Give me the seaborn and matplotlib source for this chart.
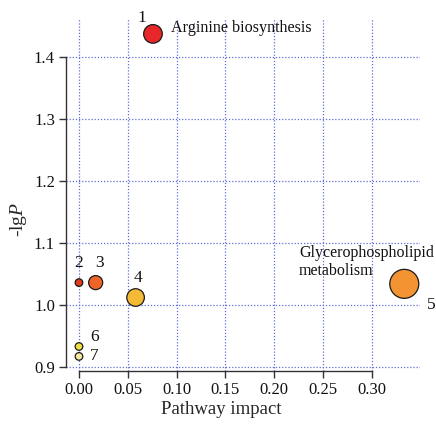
import matplotlib
matplotlib.use("Agg")
import matplotlib.pyplot as plt
import seaborn as sns
import pandas as pd

# Data
ids = ["1", "2", "3", "4", "5", "6", "7"]
impact = [0.0758, 0.0, 0.0171, 0.0580, 0.3333, 0.0, 0.0]
neglogp = [1.437, 1.036, 1.036, 1.012, 1.034, 0.933, 0.917]
colors = ["#E8272B", "#E23A1E", "#EF6427", "#F4BA35", "#F39331", "#EDDF44", "#F3EC9C"]
sizes_pt2 = [180, 30, 102, 160, 436, 30, 30]
xticks = [0.00, 0.05, 0.10, 0.15, 0.20, 0.25, 0.30]
yticks = [0.9, 1.0, 1.1, 1.2, 1.3, 1.4]

df = pd.DataFrame({"id": ids, "impact": impact, "neglogp": neglogp})

sns.set_style("white")
plt.rcParams["font.family"] = ["Liberation Serif", "DejaVu Serif"]
plt.rcParams["mathtext.fontset"] = "custom"
plt.rcParams["mathtext.rm"] = "Liberation Serif"
plt.rcParams["mathtext.it"] = "Liberation Serif:italic"

fig = plt.figure(figsize=(4.36, 4.26), dpi=100)
ax = fig.add_axes([66/436, 1-371/426, (420-66)/436, (371-19)/426])

# grid
for xt in xticks:
    ax.axvline(xt, color="#5F6FD6", lw=0.9, ls=(0, (1, 1.5)), zorder=0)
for yt in yticks:
    ax.axhline(yt, color="#5F6FD6", lw=0.9, ls=(0, (1, 1.5)), zorder=0)

sns.scatterplot(data=df, x="impact", y="neglogp", hue="id",
                palette=dict(zip(ids, colors)), size="id",
                sizes=dict(zip(ids, sizes_pt2)), edgecolor="#1a1a1a",
                linewidth=0.9, legend=False, ax=ax, zorder=3, clip_on=False)

ax.set_xlim(-0.0133, 0.3494)
ax.set_ylim(0.8935, 1.461)
ax.set_xticks(xticks)
ax.set_xticklabels([f"{v:.2f}" for v in xticks])
ax.set_yticks(yticks)
ax.set_yticklabels([f"{v:.1f}" for v in yticks])
ax.spines["top"].set_visible(False)
ax.spines["right"].set_visible(False)
ax.spines["left"].set_bounds(0.9, 1.4)
ax.spines["bottom"].set_bounds(0.0, 0.30)
for s in ["left", "bottom"]:
    ax.spines[s].set_color("#333333")
    ax.spines[s].set_linewidth(1.0)
ax.tick_params(axis="both", direction="out", length=5, width=1.0,
               color="#333333", labelsize=12, labelcolor="#111111",
               left=True, bottom=True, pad=3)

ax.set_xlabel("Pathway impact", fontsize=13.5)
ax.set_ylabel(r"-lg$\mathit{P}$", fontsize=14)
ax.xaxis.set_label_coords((221-66)/354, -(401-371)/352)
ax.yaxis.set_label_coords(-(66-29)/354, (371-219)/352)

tk = dict(fontsize=12.5, ha="center", va="center", clip_on=False, color="#111111")
ax.text(0.0642, 1.463, "1", **tk)
ax.text(0.0, 1.0677, "2", **tk)
ax.text(0.0208, 1.067, "3", **tk)
ax.text(0.0601, 1.043, "4", **tk)
ax.text(0.3613, 1.0, "5", **tk)
ax.text(0.0157, 0.948, "6", **tk)
ax.text(0.0157, 0.9177, "7", **tk)
ax.text(0.0943, 1.447, "Arginine biosynthesis", fontsize=11.6, ha="left",
        va="center", clip_on=False, color="#111111")
ax.text(0.2254, 1.069, "Glycerophospholipid\nmetabolism", fontsize=11.5,
        ha="left", va="center", linespacing=1.15, clip_on=False,
        color="#111111")

fig.savefig("out.png", dpi=100)
